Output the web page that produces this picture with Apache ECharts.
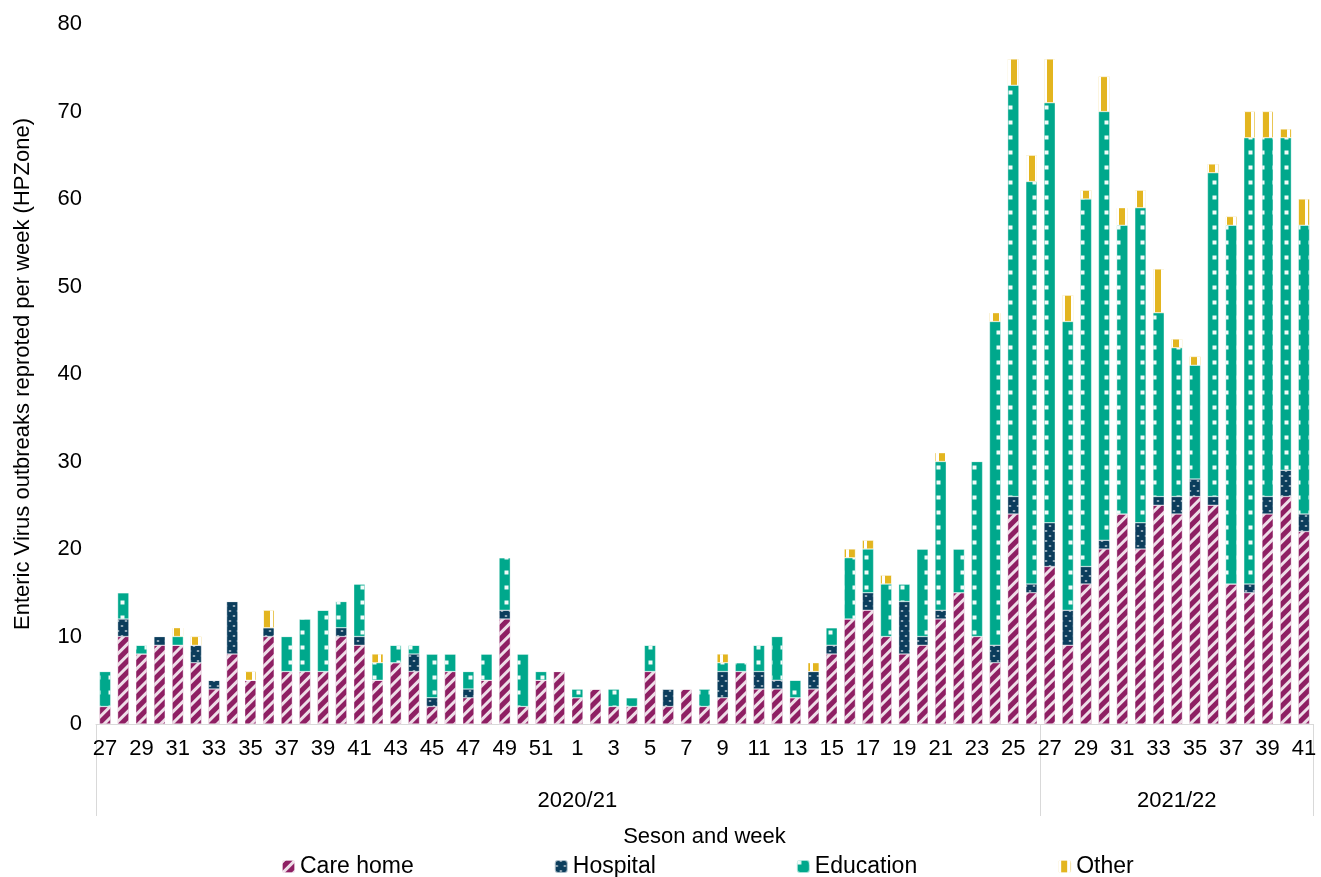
<!DOCTYPE html>
<html><head><meta charset="utf-8">
<script src="https://cdn.jsdelivr.net/npm/echarts@6/dist/echarts.min.js"></script>
<style>html,body{margin:0;padding:0;background:#fff}#c{width:1321px;height:877px}</style>
</head><body><div id="c"></div>
<script>
var weeks = [];
for (var w = 27; w <= 52; w++) weeks.push(String(w));
for (var w = 1; w <= 26; w++) weeks.push(String(w));
for (var w = 27; w <= 41; w++) weeks.push(String(w));
var seasons = ['2020/21', '2021/22'];

var careHome = [2,10,8,9,9,7,4,8,5,10,6,6,6,10,9,5,7,6,2,6,3,5,12,2,5,6,
  3,4,2,2,6,2,4,2,3,6,4,4,3,4,8,12,13,10,8,9,12,15,10,7,24,15,
  18,9,16,20,24,20,25,24,26,25,16,15,24,26,22];
var hospital = [0,2,0,1,0,2,1,6,0,1,0,0,0,1,1,0,0,2,1,0,1,0,1,0,0,0,
  0,0,0,0,0,2,0,0,3,0,2,1,0,2,1,0,2,0,6,1,1,0,0,2,2,1,
  5,4,2,1,0,3,1,2,2,1,0,1,2,3,2];
var education = [4,3,1,0,1,0,0,0,0,0,4,6,7,3,6,2,2,1,5,2,2,3,6,6,1,0,
  1,0,2,1,3,0,0,2,1,1,3,5,2,0,2,7,5,6,2,10,17,5,20,37,47,46,
  48,33,42,49,33,36,21,17,13,37,41,51,41,38,33];
var other = [0,0,0,0,1,1,0,0,1,2,0,0,0,0,0,1,0,0,0,0,0,0,0,0,0,0,
  0,0,0,0,0,0,0,0,1,0,0,0,0,1,0,1,1,1,0,0,1,0,0,1,3,3,
  5,3,1,4,2,2,5,1,1,1,1,3,3,1,3];

var chart = echarts.init(document.getElementById('c'));
var font = 'Liberation Sans, Arial, sans-serif';
function ser(name, data, color, decal) {
  return { name: name, type: 'bar', stack: 's', data: data, barWidth: '62%',
    itemStyle: { color: color, decal: decal, borderColor: 'rgba(255,255,255,0.4)', borderWidth: 0.5 } };
}
chart.setOption({
  animation: false,
  textStyle: { fontFamily: font },
  grid: { left: 96, right: 8, top: 24, bottom: 153 },
  legend: { bottom: -6, left: 276, itemGap: 140, itemWidth: 13, itemHeight: 13,
    textStyle: { fontSize: 23, color: '#000' },
    data: ['Care home', 'Hospital', 'Education', 'Other'] },
  xAxis: [{
    type: 'category', data: weeks, position: 'bottom',
    axisLine: { lineStyle: { color: '#d9d9d9' } }, axisTick: { show: false },
    axisLabel: { interval: 1, fontSize: 22, color: '#000', margin: 14 }
  }, {
    type: 'category', data: weeks, position: 'bottom', offset: 0,
    name: 'Seson and week', nameLocation: 'middle', nameGap: 102,
    nameTextStyle: { fontSize: 22, color: '#000' },
    axisLine: { show: false },
    axisTick: { show: true, length: 92, lineStyle: { color: '#d9d9d9' },
      interval: function (i) { return i === 0 || i === 52 || i === 67; } },
    axisLabel: { fontSize: 22, color: '#000', margin: 66,
      interval: function (i) { return i === 26 || i === 59; },
      formatter: function (v, i) { return i === 26 ? seasons[0] : seasons[1]; } }
  }],
  yAxis: {
    type: 'value', min: 0, max: 80, interval: 10,
    name: 'Enteric Virus outbreaks reproted per week (HPZone)', nameLocation: 'middle', nameGap: 62,
    nameTextStyle: { fontSize: 22, color: '#000' },
    axisLabel: { fontSize: 22, color: '#000', margin: 14 },
    splitLine: { show: false }, axisLine: { show: false }
  },
  series: [
    ser('Care home', careHome, '#8e1f63', { color: 'rgba(255,255,255,0.85)', dashArrayX: [1, 0], dashArrayY: [3, 5], rotation: -Math.PI / 4, symbolSize: 1 }),
    ser('Hospital', hospital, '#0b3d5c', { symbol: 'rect', symbolSize: 0.6, color: 'rgba(255,255,255,0.9)', dashArrayX: [[4, 4], [0, 4, 4, 0]], dashArrayY: [2, 3] }),
    ser('Education', education, '#00a88c', { symbol: 'rect', symbolSize: 0.8, color: 'rgba(255,255,255,0.95)', dashArrayX: [[5, 7]], dashArrayY: [5, 10] }),
    ser('Other', other, '#e3b51f', { symbol: 'rect', color: 'rgba(255,255,255,1)', dashArrayX: [3, 6], dashArrayY: [1, 0], symbolSize: 1 })
  ]
});
</script></body></html>
